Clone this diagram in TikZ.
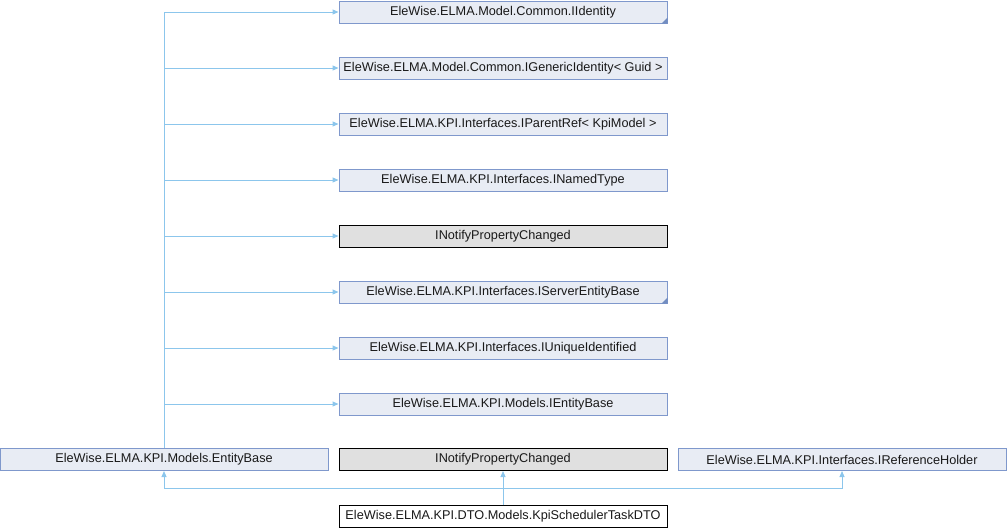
\documentclass[tikz,border=0pt]{standalone}
\usepackage{fontspec}
\setmainfont{Liberation Sans}
\usetikzlibrary{arrows.meta}
\definecolor{boxfill}{HTML}{E8ECF4}
\definecolor{boxline}{HTML}{7F98CC}
\definecolor{corner}{HTML}{728DC1}
\definecolor{greyfill}{HTML}{E0E0E0}
\definecolor{edgecol}{HTML}{8CC6EC}
\tikzset{
  base/.style={minimum width=328pt, minimum height=22pt, inner sep=0pt, line width=1pt,
    font=\fontsize{12.7}{14}\selectfont, text=black!90},
  iface/.style={base, draw=boxline, fill=boxfill},
  extern/.style={base, draw=black, fill=greyfill},
  cur/.style={base, draw=black, fill=white},
  edge/.style={draw=edgecol, line width=1pt, -{Triangle[length=6pt,width=5pt]}},
}
\newcommand{\fold}[1]{\fill[corner] ([xshift=-6pt]#1.south east) -- (#1.south east) -- ([yshift=6pt]#1.south east) -- cycle;}
\begin{document}
\begin{tikzpicture}[x=1pt,y=-1pt]
\useasboundingbox (0,0) rectangle (1007,528);
\node[iface] (a) at (503,12) {EleWise.ELMA.Model.Common.IIdentity};
\node[iface] (b) at (503,68) {EleWise.ELMA.Model.Common.IGenericIdentity< Guid >};
\node[iface] (c) at (503,124) {EleWise.ELMA.KPI.Interfaces.IParentRef< KpiModel >};
\node[iface] (d) at (503,180) {EleWise.ELMA.KPI.Interfaces.INamedType};
\node[extern] (e) at (503,236) {INotifyPropertyChanged};
\node[iface] (f) at (503,292) {EleWise.ELMA.KPI.Interfaces.IServerEntityBase};
\node[iface] (g) at (503,348) {EleWise.ELMA.KPI.Interfaces.IUniqueIdentified};
\node[iface] (h) at (503,404) {EleWise.ELMA.KPI.Models.IEntityBase};
\node[iface] (ent) at (164,459.5) {EleWise.ELMA.KPI.Models.EntityBase};
\node[extern] (inp) at (503,459.5) {INotifyPropertyChanged};
\node[iface] (ref) at (842,459.5) {EleWise.ELMA.KPI.Interfaces.IReferenceHolder};
\node[cur] (dto) at (503,516.5) {EleWise.ELMA.KPI.DTO.Models.KpiSchedulerTaskDTO};
\fold{a}
\fold{f}
\foreach \t in {a,b,c,d,e,f,g,h}{\draw[edge] (ent.north) |- (\t.west);}
\coordinate (j) at (503,488);
\draw[edge] (dto.north) -- (inp.south);
\draw[edge] (dto.north) -- (j) -| (ent.south);
\draw[edge] (j) -| (ref.south);
\end{tikzpicture}
\end{document}
